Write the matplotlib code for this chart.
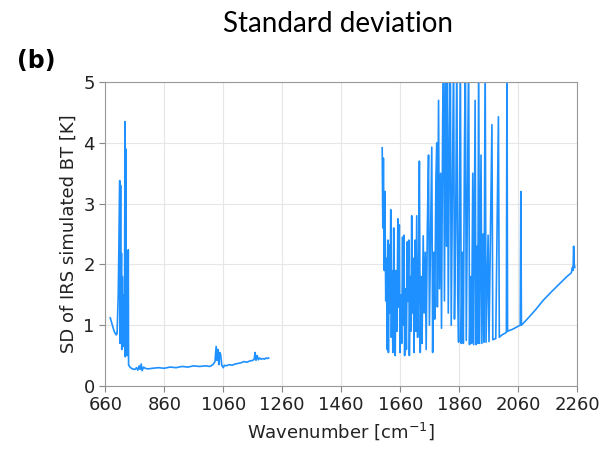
import numpy as np
import matplotlib.pyplot as plt

# Long-wave band (wavenumber, SD)
lw_wn = [677, 684, 690, 697, 700, 704, 707, 709, 710, 712, 713, 715, 716, 718,
         720, 723, 725, 727, 728, 730, 731, 733, 735, 738, 739, 742, 746, 752,
         760, 766, 770, 775, 778, 782, 785, 790, 795, 805, 820, 840, 860, 880,
         900, 920, 940, 960, 980, 1000, 1015, 1025, 1032, 1036, 1039, 1042,
         1045, 1048, 1051, 1055, 1060, 1064, 1070, 1080, 1090, 1100, 1110,
         1120, 1130, 1140, 1150, 1160, 1165, 1168, 1171, 1175, 1179, 1183,
         1188, 1195, 1200, 1205, 1210, 1214]
lw_sd = [1.12, 1.0, 0.9, 0.84, 0.86, 1.5, 2.6, 3.38, 0.7, 3.3, 1.2, 2.18, 0.6, 1.8,
         0.65, 1.5, 0.9, 4.35, 0.48, 3.9, 0.6, 1.2, 0.5, 2.24, 0.35, 0.32, 0.3, 0.28,
         0.27, 0.3, 0.26, 0.33, 0.27, 0.36, 0.25, 0.31, 0.29, 0.28, 0.29, 0.3, 0.29, 0.31,
         0.3, 0.32, 0.31, 0.33, 0.32, 0.33, 0.32, 0.35, 0.4, 0.65, 0.42, 0.6,
         0.35, 0.55, 0.52, 0.34, 0.3, 0.34, 0.33, 0.35, 0.34, 0.36, 0.37,
         0.38, 0.4, 0.39, 0.41, 0.42, 0.44, 0.55, 0.42, 0.5, 0.43, 0.46,
         0.44, 0.45, 0.44, 0.46, 0.45, 0.46]

# Mid-wave band
mw_wn = [1599, 1601, 1603, 1606, 1608, 1611, 1613, 1616, 1618, 1620, 1623, 1625,
         1628, 1630, 1632, 1635, 1638, 1640, 1643, 1646, 1649, 1652, 1654, 1657,
         1659, 1662, 1665, 1668, 1670, 1673, 1675, 1678, 1681, 1684, 1686, 1689,
         1691, 1694, 1696, 1699, 1701, 1704, 1707, 1710, 1713,
         1716, 1719, 1722, 1725, 1728, 1731, 1734, 1738, 1741, 1745, 1748, 1752,
         1756, 1759, 1763, 1767, 1770, 1774, 1777, 1781, 1784, 1786, 1790, 1793,
         1797, 1800, 1804, 1807, 1810, 1814, 1817, 1820, 1823, 1827, 1830, 1833,
         1837, 1841, 1844, 1848, 1852, 1855, 1858, 1861, 1864, 1867, 1871, 1874,
         1878, 1881, 1884, 1888, 1892, 1895, 1899, 1902, 1906, 1909, 1914, 1917,
         1921, 1923, 1926, 1929, 1934, 1937, 1941, 1944, 1948, 1951, 1958, 1961,
         1971, 1974, 1984, 1993, 1996, 2005, 2020, 2022, 2024, 2040, 2055, 2067,
         2069, 2071, 2085, 2100, 2120, 2145, 2175, 2202, 2225, 2240, 2244, 2246,
         2248, 2250, 2252]
mw_sd = [3.92, 2.6, 3.75, 1.9, 3.2, 1.4, 2.1, 0.6, 2.4, 0.55, 2.32, 1.2,
         2.9, 0.8, 1.9, 0.55, 2.6, 1.1, 0.5, 1.9, 0.9, 2.75, 1.3, 2.65,
         0.55, 1.5, 0.7, 2.45, 1.0, 2.48, 0.5, 1.6, 0.6, 2.37, 1.4, 2.4,
         0.5, 1.8, 0.9, 2.8, 1.2, 2.1, 0.55, 2.4, 0.9,
         2.8, 0.8, 1.5, 3.7, 0.55, 1.8, 0.7, 2.47, 1.2, 2.2, 0.6, 2.6,
         3.8, 1.0, 2.5, 3.93, 0.55, 2.2, 1.1, 3.4, 4.0, 1.3, 4.7, 1.6,
         3.5, 0.95, 4.4, 5.5, 1.4, 5.5, 2.3, 5.5, 1.2, 4.2, 5.5, 1.0,
         3.3, 5.5, 1.1, 2.6, 5.5, 1.5, 0.72, 3.0, 5.5, 0.7, 2.2, 0.7,
         4.0, 5.5, 0.75, 3.2, 5.5, 0.68, 1.8, 0.7, 3.5, 0.68, 4.7, 0.68,
         2.3, 0.7, 5.5, 0.7, 3.8, 0.7, 2.5, 0.72, 5.5, 0.72, 2.48, 0.73,
         4.3, 0.76, 0.78, 4.43, 0.8, 0.84, 0.88, 5.5, 0.9, 0.93, 0.97, 1.0,
         3.2, 1.0, 1.07, 1.15, 1.26, 1.41, 1.56, 1.69, 1.8, 1.86, 1.95, 1.9,
         2.3, 2.0, 1.95]

x_ticks = [660, 860, 1060, 1260, 1460, 1660, 1860, 2060, 2260]
y_ticks = [0, 1, 2, 3, 4, 5]

line_color = '#1E90FF'

fig = plt.figure(figsize=(6.05, 4.54), dpi=100)
ax = fig.add_axes([0.174, 0.150, 0.780, 0.669])

ax.plot(lw_wn, lw_sd, color=line_color, lw=1.2)
ax.plot(mw_wn, mw_sd, color=line_color, lw=1.2)

ax.set_xlim(660, 2260)
ax.set_ylim(0, 5)
ax.set_xticks(x_ticks)
ax.set_yticks(y_ticks)
ax.tick_params(labelsize=13, color='#888888', length=4, labelcolor='#222222')
ax.grid(True, color='#e6e6e6', lw=0.8)
ax.set_axisbelow(True)
for s in ax.spines.values():
    s.set_color('#999999')

ax.set_xlabel('Wavenumber [cm$^{-1}$]', fontsize=13, color='#222222')
ax.set_ylabel('SD of IRS simulated BT [K]', fontsize=13, color='#222222')

fig.text(0.558, 0.948, 'Standard deviation', ha='center', va='center',
         fontsize=20, family='Lato')
fig.text(0.028, 0.865, '(b)', ha='left', va='center', fontsize=17,
         fontweight='bold')

plt.savefig('out.png', dpi=100)
